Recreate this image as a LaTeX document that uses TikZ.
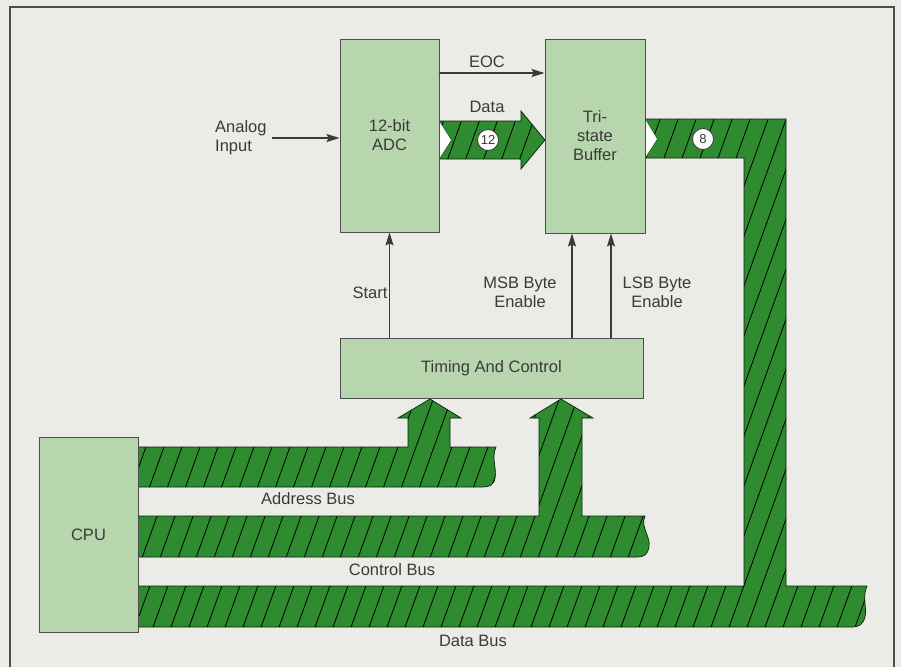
\documentclass[tikz,border=0pt]{standalone}
\usepackage{fontspec}
\setmainfont{Liberation Sans}
\usetikzlibrary{arrows.meta}
\definecolor{bg}{HTML}{EBEBE8}
\definecolor{boxgreen}{HTML}{B7D6AE}
\definecolor{busgreen}{HTML}{2E8B30}
\definecolor{ink}{HTML}{3A3A3A}
\newcommand\hatchfill[1]{%
  \fill[busfill] #1;
  \begin{scope}
    \clip #1;
    \foreach \c in {-280,-262,...,920} {\draw[hatchline] (\c,680) -- (\c+245,0);}
  \end{scope}
  \draw[busline] #1;}
\begin{document}
\begin{tikzpicture}[x=1pt,y=-1pt,
  font=\fontsize{16.5}{19}\selectfont,
  box/.style={draw=ink!90, line width=0.9pt, fill=boxgreen, text=ink, align=center, inner sep=0pt},
  lbl/.style={text=ink, align=center, inner sep=0pt},
  arr/.style={draw=ink, line width=1.1pt, -{Stealth[length=13pt,width=8pt,inset=2pt]}},
  busfill/.style={fill=busgreen},
  busline/.style={draw=black!75!busgreen, line width=0.7pt},
  hatchline/.style={draw=black, line width=0.8pt},
  badge/.style={circle, draw=ink, fill=white, line width=0.8pt, minimum size=21pt, inner sep=0pt, font=\fontsize{13}{13}\selectfont, text=ink}]

\fill[bg] (0,0) rectangle (901,667);
\useasboundingbox (0,0) rectangle (901,667);
\draw[draw=gray!60!black, line width=1.4pt] (10,667) -- (10,7) -- (894,7) -- (894,667);

% buses
\hatchfill{(138,447) -- (408,447) -- (408,418) -- (398,418) -- (430,399) -- (461,418) -- (450,418) -- (450,447) -- (496,447) .. controls (491,458) and (497,468) .. (495,478) .. controls (494,485) and (489,487) .. (483,487) -- (138,487) -- cycle}
\hatchfill{(138,516) -- (539,516) -- (539,418) -- (530,418) -- (561,399) -- (593,418) -- (582,418) -- (582,516) -- (645,516) .. controls (640,527) and (651,537) .. (649,547) .. controls (648,554) and (644,557) .. (638,557) -- (138,557) -- cycle}
\hatchfill{(138,586) -- (744,586) -- (744,158) -- (645,158) -- (657,139) -- (645,119) -- (786,119) -- (786,586) -- (867,586) .. controls (862,597) and (867,607) .. (865,617) .. controls (863,624) and (859,627) .. (853,627) -- (138,627) -- cycle}
\hatchfill{(439,121) -- (521,121) -- (521,111) -- (545,140) -- (521,169) -- (521,159) -- (439,159) -- (451,140) -- cycle}
\fill[white] (439,121) -- (451,140) -- (439,159) -- cycle;
\fill[white] (645,119) -- (657,139) -- (645,158) -- cycle;

% boxes
\node[box, minimum width=99pt, minimum height=193pt] (adc) at (389.5,135.5) {12-bit\\ADC};
\node[box, minimum width=100pt, minimum height=194pt] (buf) at (595,136) {Tri-\\state\\Buffer};
\node[box, minimum width=303pt, minimum height=60pt] (tc) at (491.5,368) {Timing And Control};
\node[box, minimum width=99pt, minimum height=195pt] (cpu) at (88.5,534.5) {CPU};

\node[badge] (b12) at (488,140) {12};
\node[badge] (b8) at (703,139) {8};

% connectors
\coordinate (eocy) at (0,73);
\coordinate (ain) at (272,138);
\coordinate (msbx) at (572,0);
\coordinate (lsbx) at (611,0);
\draw[arr] (adc.east |- eocy) -- (buf.west |- eocy);
\draw[arr] (ain) -- (adc.west |- ain);
\draw[arr] (tc.north -| adc.south) -- (adc.south);
\draw[arr] (tc.north -| msbx) -- (buf.south -| msbx);
\draw[arr] (tc.north -| lsbx) -- (buf.south -| lsbx);

% labels
\node[lbl] (eoc) at (487,62) {EOC};
\node[lbl] (datal) at (487,107) {Data};
\node[lbl, align=left, anchor=west] (analog) at (215,138) {Analog\\Input};
\node[lbl] (start) at (370,293) {Start};
\node[lbl] (msb) at (520,292) {MSB Byte\\Enable};
\node[lbl] (lsb) at (657,292) {LSB Byte\\Enable};
\node[lbl] (abus) at (308,499) {Address Bus};
\node[lbl] (cbus) at (392,570) {Control Bus};
\node[lbl] (dbus) at (473,641) {Data Bus};
\end{tikzpicture}
\end{document}
